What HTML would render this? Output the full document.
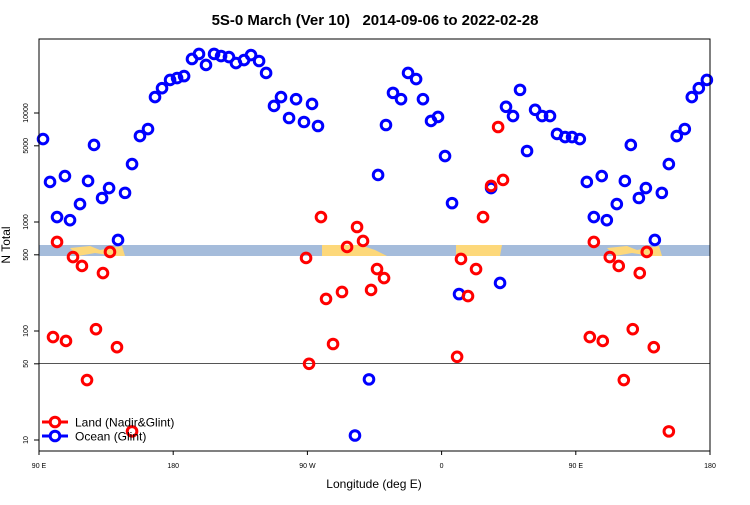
<!DOCTYPE html>
<html><head><meta charset="utf-8"><style>
body{margin:0;background:#fff;font-family:"Liberation Sans",sans-serif}
svg text{font-family:"Liberation Sans",sans-serif}
</style></head><body>
<svg id="chart" width="750" height="500">
<text x="375" y="25" text-anchor="middle" font-size="15" font-weight="bold">5S-0 March (Ver 10)&#160;&#160; 2014-09-06 to 2022-02-28</text>
<g id="band">
<rect x="39" y="245" width="671" height="11" fill="#a5bcdb"/>
<path d="M70,248 L90,246 L100,250 L122,246 L125,256 L115,256 L95,253 L78,256 Z" fill="#fdd87a"/>
<path d="M322,245 L360,245 L375,250 L387,256 L322,256 Z" fill="#fdd87a"/>
<path d="M456,245 L502,245 L500,256 L456,256 Z" fill="#fdd87a"/>
<path d="M607,248 L627,246 L637,250 L659,246 L662,256 L652,256 L632,253 L615,256 Z" fill="#fdd87a"/>
</g>
<line x1="39" y1="363.5" x2="710" y2="363.5" stroke="#555" stroke-width="1"/>
<g id="marks"></g>
<rect x="39" y="39" width="671" height="412" fill="none" stroke="#000" stroke-width="1"/>
<g id="axes"></g>
<text x="374" y="488" text-anchor="middle" font-size="12">Longitude (deg E)</text>
<text transform="translate(10,245) rotate(-90)" text-anchor="middle" font-size="12">N Total</text>
<g>
<g>
<line x1="42" y1="422" x2="68" y2="422" stroke="#f00" stroke-width="3"/><circle cx="55" cy="422" r="4.8" fill="#fff" stroke="#f00" stroke-width="3"/>
<text x="75" y="426.5" font-size="12">Land (Nadir&amp;Glint)</text></g>
<g>
<line x1="42" y1="436" x2="68" y2="436" stroke="#00f" stroke-width="3"/><circle cx="55" cy="436" r="4.8" fill="#fff" stroke="#00f" stroke-width="3"/>
<text x="75" y="440.5" font-size="12">Ocean (Glint)</text></g>
</g>
</svg>
<script>
const oceanLon=[92.7,97.4,102.1,107.4,110.8,117.5,122.9,126.9,132.3,137.0,143.0,147.7,152.4,157.7,163.1,167.8,172.5,177.9,-177.4,-172.7,-167.4,-162.7,-158.0,-152.6,-147.9,-142.6,-137.9,-132.5,-127.8,-122.4,-117.7,-112.4,-107.7,-102.3,-97.6,-92.3,-86.9,-82.9,-58.1,-48.7,-42.6,-37.3,-32.6,-27.2,-22.5,-17.1,-12.5,-7.1,-2.4,2.3,7.0,11.7,33.2,39.2,43.2,47.9,52.6,57.3,62.7,67.4,72.7,77.4,82.8,87.5];
const oceanN=[5770,2330,1110,2640,1040,1460,2380,5090,1660,2050,684,1850,3400,6150,7130,14000,16900,20100,20900,21800,31300,34800,27600,34800,33300,32600,28700,30600,34000,30000,23300,11600,14000,9000,13400,8270,12100,7600,11,36,2700,7760,15300,13400,23300,20500,13400,8450,9200,4030,1490,218,2050,276,11400,9380,16300,4480,10700,9380,9380,6420,6020,6020];
const landLon=[102.1,99.4,108.1,112.8,118.8,122.2,128.2,132.9,137.6,142.3,152.4,-90.9,-88.9,-80.9,-77.5,-72.8,-66.8,-63.4,-56.7,-52.7,-47.3,-43.3,-38.6,10.4,13.0,17.7,23.1,27.8,33.2,37.9,41.2];
const landN=[656,88,81,477,395,35.5,104,340,531,71,12,468,50,1110,197,76,228,590,900,670,238,370,306,58,458,209,370,1110,2140,7440,2430];
const yTicks=[10,50,100,500,1000,5000,10000];
const xTickLon=[90,180,270,360,450,540];
const xTickLabels=["90 E","180","90 W","0","90 E","180"];
const NS="http://www.w3.org/2000/svg";
const X0=39,X1=710,L0=90,L1=540;
function xs(u){return X0+(u-L0)*(X1-X0)/(L1-L0);}
function ys(v){return 440-109*(Math.log10(v)-1);}
function unwrap(l){return l<90?l+360:l;}
const marks=document.getElementById('marks'),axes=document.getElementById('axes');
function mk(tag,at){const e=document.createElementNS(NS,tag);for(const k in at)e.setAttribute(k,at[k]);return e;}
function plot(lons,vals,col,name){
 lons.forEach((l,i)=>{
  const u=unwrap(l);
  [u,u+360].forEach(p=>{
   if(p>L1)return;
   const c=mk('circle',{cx:xs(p),cy:ys(vals[i]),r:4.8,fill:'none',stroke:col,'stroke-width':3});
   
   
   marks.appendChild(c);
  });
 });
}
plot(oceanLon,oceanN,'#00f','ocean-point');
plot(landLon,landN,'#f00','land-point');
yTicks.forEach(v=>{
 const y=ys(v);
 axes.appendChild(mk('line',{x1:34,x2:39,y1:y,y2:y,stroke:'#000'}));
 const t=mk('text',{transform:`translate(28,${y}) rotate(-90)`,'text-anchor':'middle','font-size':7});
 t.textContent=v;
 
 
 axes.appendChild(t);
});
xTickLon.forEach((u,i)=>{
 const x=xs(u);
 axes.appendChild(mk('line',{x1:x,x2:x,y1:451,y2:455,stroke:'#000'}));
 const t=mk('text',{x:x,y:468,'text-anchor':'middle','font-size':7});
 t.textContent=xTickLabels[i];
 
 
 axes.appendChild(t);
});
</script>
</body></html>
